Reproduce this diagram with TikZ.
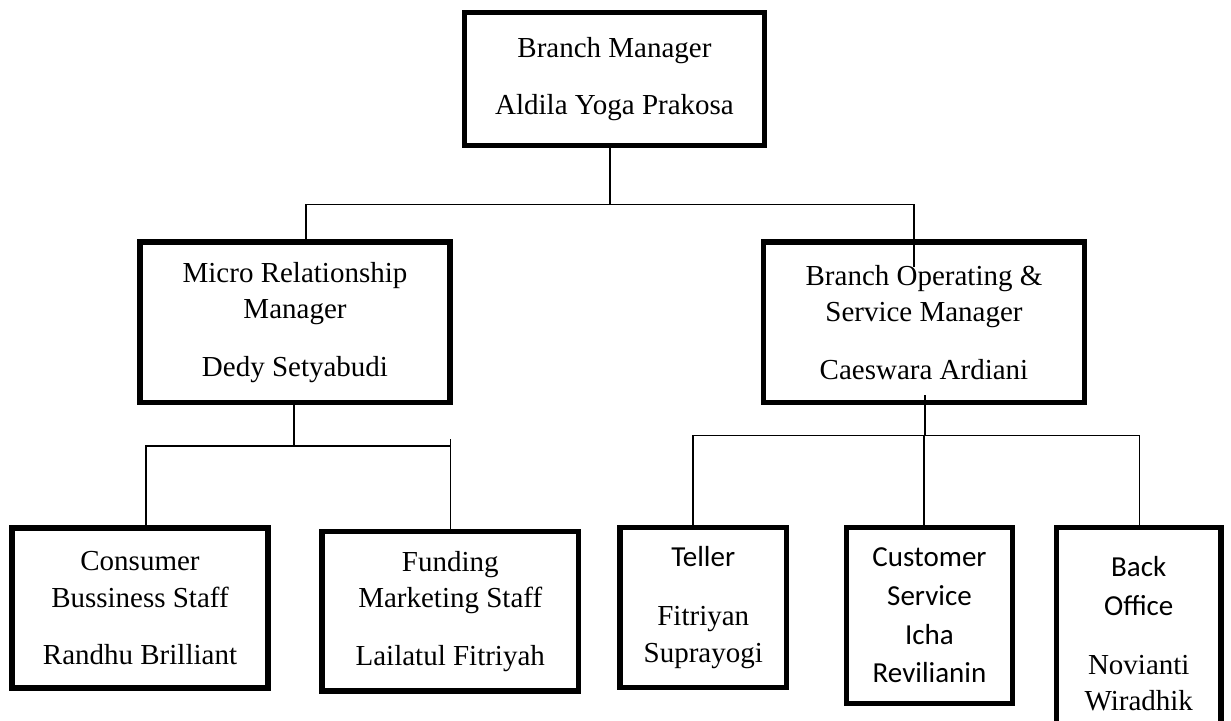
\documentclass[tikz,border=0pt]{standalone}
\usepackage{fontspec}
\setmainfont{Liberation Serif}
\newfontfamily\calibrifont{Carlito}
\usetikzlibrary{positioning}

\begin{document}
\begin{tikzpicture}[
        orgbox/.style 2 args={draw, line width=3.1pt, minimum width=#1cm, minimum height=#2cm, inner sep=0pt, align=center, font=\fontsize{16.5}{20.8}\selectfont},
        orgline/.style={line width=0.7pt},
    ]
    \useasboundingbox (0,0) rectangle (24.62,-14.4);

    % === Top ===
    \node[orgbox={6.0}{2.66}] (bm) at (12.29,-1.58) {Branch Manager\\[11.9pt]Aldila Yoga Prakosa};

    % === Managers ===
    \node[orgbox={6.2}{3.21}] (mrm) at (5.90,-6.445) {Micro Relationship\\Manager\\[11.9pt]Dedy Setyabudi};
    \node[orgbox={6.43}{3.21}] (bosm) at (18.48,-6.445) {Branch Operating \&\\Service Manager\\[11.9pt]Caeswara Ardiani};

    % === Staff ===
    \node[orgbox={5.12}{3.20}] (cbs) at (2.80,-12.16) {Consumer\\Bussiness Staff\\[11.9pt]Randhu Brilliant};
    \node[orgbox={5.13}{3.19}] (fms) at (9.005,-12.225) {Funding\\Marketing Staff\\[11.9pt]Lailatul Fitriyah};
    \node[orgbox={3.33}{3.20}] (tel) at (14.065,-12.15) {{\calibrifont Teller}\\[13pt]Fitriyan\\Suprayogi};
    \node[orgbox={3.32}{3.52}, font=\fontsize{16.5}{22}\selectfont\calibrifont] (cs) at (18.59,-12.31) {Customer\\Service\\Icha\\Revilianin};
    % bottom edge runs off the page
    \node[orgbox={3.29}{4.25}] (bo) at (22.775,-12.675) {{\calibrifont Back}\\[1.6pt]{\calibrifont Office}\\[12.3pt]Novianti\\Wiradhik};

    % Links from the top
    \coordinate (j0) at (12.2,-4.086);
    \coordinate (jl) at (6.12,-4.086);
    \coordinate (jr) at (18.28,-4.086);
    \draw[orgline] (j0 |- bm.south) -- (j0);
    \draw[orgline] (jl |- mrm.north) -- (jl) -- (jr) -- (18.28,-5.346);

    % Links under the micro manager
    \coordinate (ml) at (2.92,-8.92);
    \coordinate (mr) at (9.014,-8.92);
    \draw[orgline] (5.88,0 |- mrm.south) -- (5.88,-8.92);
    \draw[orgline] (ml |- cbs.north) -- (ml) -- (mr);
    \draw[orgline] (9.014,-8.786) -- (mr |- fms.north);

    % Links under the operating manager
    \coordinate (bl) at (13.86,-8.714);
    \coordinate (br) at (22.79,-8.714);
    \draw[orgline] (18.5,-7.9) -- (18.5,-8.714);
    \draw[orgline] (bl |- tel.north) -- (bl) -- (br) -- (br |- bo.north);
    \draw[orgline] (18.48,-8.714) -- (18.48,0 |- cs.north);

\end{tikzpicture}
\end{document}
